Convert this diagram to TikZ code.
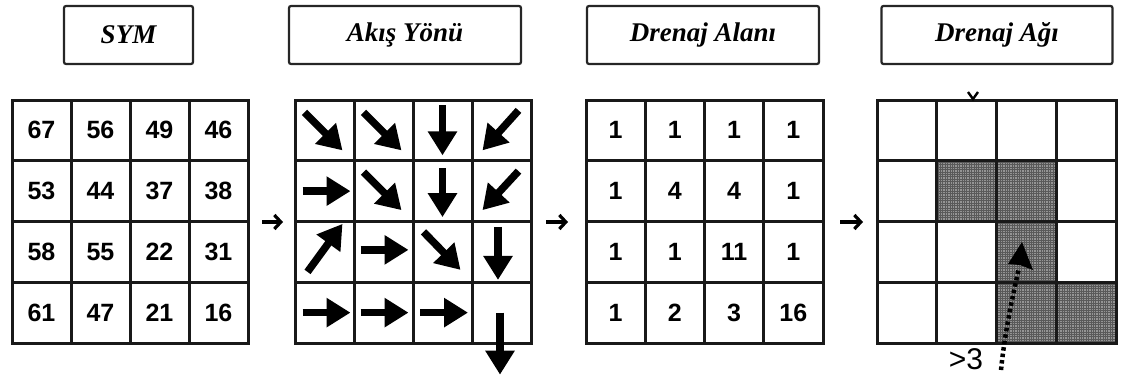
\documentclass[tikz,border=0pt]{standalone}
\usepackage{fontspec}
\setmainfont{Liberation Serif}
\setsansfont{Liberation Sans}
\usetikzlibrary{arrows.meta,calc}
\begin{document}
\begin{tikzpicture}[x=1pt,y=-1pt,
  titlebox/.style={draw=black!85,line width=2.2pt,rounded corners=2pt,
    minimum height=58pt,inner sep=0pt,
    font=\fontsize{27}{30}\selectfont\bfseries\itshape},
  cell/.style={draw=black!90,line width=3pt,minimum width=#1,
    minimum height=60.75pt,inner sep=0pt,
    font=\sffamily\bfseries\fontsize{25}{27}\selectfont},
  shaded/.style={fill=black!42,path picture={
    \draw[black!65,line width=0.5pt]
      (path picture bounding box.south west) grid[step=2.4pt]
      (path picture bounding box.north east);}},
  flow/.style={line width=7.5pt,-{Triangle[length=24pt,width=28pt]}},
  passarrow/.style={line width=3.2pt,
    -{Straight Barb[length=6.5pt,width=14pt,line width=3.2pt]}},
]
\useasboundingbox (0,0) rectangle (1125,380);

% titles
\node[titlebox,minimum width=129pt] (t1) at (128.5,35) {SYM};
\node[titlebox,minimum width=232pt] (t2) at (405,35) {Akış Yönü};
\node[titlebox,minimum width=232pt] (t3) at (703,35) {Drenaj Alanı};
\node[titlebox,minimum width=231pt] (t4) at (997,35) {Drenaj Ağı};

% elevation grid
\foreach \r/\row in {1/{67,56,49,46},2/{53,44,37,38},3/{58,55,22,31},4/{61,47,21,16}}
  \foreach \v [count=\c] in \row
    \node[cell=59pt] (s-\r-\c) at ({12+59*(\c-0.5)},{100+60.75*(\r-0.5)}) {\v};

% flow direction grid
\foreach \r in {1,...,4}
  \foreach \c in {1,...,4}
    \node[cell=59pt] (f-\r-\c) at ({295+59*(\c-0.5)},{100+60.75*(\r-0.5)}) {};

% flow accumulation grid
\foreach \r/\row in {1/{1,1,1,1},2/{1,4,4,1},3/{1,1,11,1},4/{1,2,3,16}}
  \foreach \v [count=\c] in \row
    \node[cell=59.25pt] (a-\r-\c) at ({586+59.25*(\c-0.5)},{100+60.75*(\r-0.5)}) {\v};

% stream network grid
\foreach \r in {1,...,4}
  \foreach \c in {1,...,4}
    \node[cell=59.75pt] (n-\r-\c) at ({877+59.75*(\c-0.5)},{100+60.75*(\r-0.5)}) {};
\foreach \r/\c in {2/2,2/3,3/3,4/3,4/4}
  \node[cell=59.75pt,shaded] at (n-\r-\c) {};

% flow direction arrows
\newcommand{\fl}[5]{\draw[flow] ($(f-#1)+(#2,#3)$) -- ($(f-#1)+(#4,#5)$);}
\fl{1-1}{-20}{-18}{18}{20}
\fl{1-2}{-20}{-18}{18}{20}
\fl{1-3}{0}{-25}{0}{25}
\fl{1-4}{17}{-20}{-19}{20}
\fl{2-1}{-22}{0}{26}{0}
\fl{2-2}{-20}{-19}{18}{19}
\fl{2-3}{0}{-23}{0}{26}
\fl{2-4}{17}{-20}{-19}{19}
\fl{3-1}{-17}{20}{18}{-28}
\fl{3-2}{-23}{-2}{25}{-2}
\fl{3-3}{-19}{-20}{18}{18}
\fl{3-4}{-3.5}{-25}{-3.5}{28}
\fl{4-1}{-22}{0}{26}{0}
\fl{4-2}{-23}{0}{25}{0}
\fl{4-3}{-22.5}{0}{25.5}{0}
\fl{4-4}{-1.5}{0}{-1.5}{62}

% arrows between stages
\coordinate (p1a) at (262,222); \coordinate (p1b) at (283,222);
\coordinate (p2a) at (546,222); \coordinate (p2b) at (568,222);
\coordinate (p3a) at (840,222); \coordinate (p3b) at (863,222);
\draw[passarrow] (p1a) -- (p1b);
\draw[passarrow] (p2a) -- (p2b);
\draw[passarrow] (p3a) -- (p3b);

% threshold marker
\coordinate (tail) at (1001,370);
\coordinate (neck) at (1019,268);
\draw[line width=4.5pt,dash pattern=on 3.5pt off 3pt] (tail) .. controls (1005,330) and (1014,290) .. (neck);
\fill (1022,242) -- (1033,270) -- (1020,265) -- (1008,264) -- cycle;
\node[font=\sffamily\fontsize{30}{32}\selectfont,inner sep=0pt] (thr) at (966,359) {>3};

% small tick on top edge
\draw[line width=2.4pt] (968,92) -- (973,99) -- (978,92);
\end{tikzpicture}
\end{document}
